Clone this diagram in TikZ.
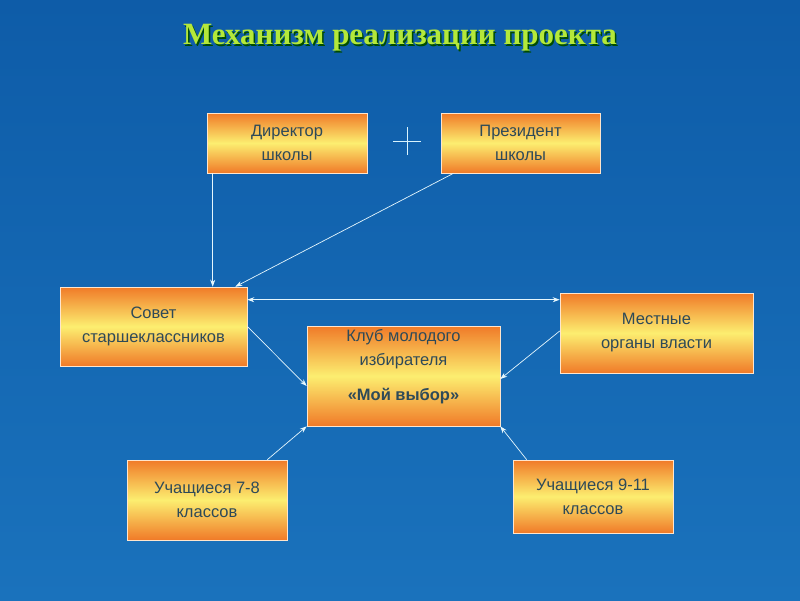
\documentclass[tikz,border=0pt]{standalone}
\usepackage{fontspec}
\setmainfont{Liberation Sans}
\newfontfamily\titlefont{Liberation Serif}
\usetikzlibrary{arrows.meta}
\definecolor{bgtop}{HTML}{0E5CA8}
\definecolor{bgbot}{HTML}{1A72BC}
\definecolor{boxor}{HTML}{F07A28}
\definecolor{boxye}{HTML}{FCEE70}
\definecolor{txt}{HTML}{2E4A58}
\definecolor{ttl}{HTML}{B4E83A}
\tikzset{
  box/.style={draw=white!80!orange, line width=0.6pt, top color=boxor, bottom color=boxor, middle color=boxye, font=\fontsize{16.5}{24}\selectfont, text=txt, align=center},
  conn/.style={draw=white!90!cyan, line width=0.7pt, -{Stealth[length=7pt,width=5pt]}}
}
\begin{document}
\begin{tikzpicture}[x=1pt,y=-1pt]
\useasboundingbox (0,0) rectangle (800,600);
\shade[top color=bgtop, bottom color=bgbot] (0,0) rectangle (800,600);
\node[font=\titlefont\bfseries\fontsize{31}{34}\selectfont, text=black!70!green] (tsh) at (401.5,39.5) {Механизм реализации проекта};
\node[font=\titlefont\bfseries\fontsize{31}{34}\selectfont, text=ttl] (title) at (400,38) {Механизм реализации проекта};
\node[box, minimum width=160, minimum height=60] (dir) at (287,143) {Директор\\школы};
\node[box, minimum width=159, minimum height=60] (pres) at (520.5,143) {Президент\\школы};
\node[box, minimum width=187, minimum height=79] (sov) at (153.5,326.5) {Совет\\старшеклассников};
\node[box, minimum width=193, minimum height=80] (mest) at (656.5,333) {Местные\\органы власти};
\node[box, minimum width=193, minimum height=100] (klub) at (403.5,376) {};
\node[font=\fontsize{16.5}{24}\selectfont, text=txt, align=center] (klubt) at (403.5,349) {Клуб молодого\\избирателя};
\node[font=\bfseries\fontsize{16.5}{20}\selectfont, text=txt] (klubb) at (403.5,396) {«Мой выбор»};
\node[box, minimum width=160, minimum height=80] (u78) at (207,500) {Учащиеся 7-8\\классов};
\node[box, minimum width=160, minimum height=73] (u911) at (593,496.5) {Учащиеся 9-11\\классов};
\coordinate (p1) at (393,141); \coordinate (p2) at (421,141);
\coordinate (p3) at (407,127); \coordinate (p4) at (407,155);
\draw[white!85!cyan, line width=0.7pt] (p1) -- (p2) (p3) -- (p4);
\draw[conn] (dir.south west) ++(6,0) coordinate (a1) -- (a1 |- sov.north);
\draw[conn] ([xshift=-67]pres.south) -- ([xshift=-12]sov.north east);
\draw[conn, {Stealth[length=7pt,width=5pt]}-{Stealth[length=7pt,width=5pt]}] ([yshift=-13]sov.north east) -- ([yshift=-13]sov.north east -| mest.west);
\draw[conn] (sov.east) -- ([yshift=-10]klub.west);
\draw[conn] ([yshift=2]mest.west) -- ([yshift=-3]klub.east);
\draw[conn] ([xshift=-20]u78.north east) -- (klub.south west);
\draw[conn] ([xshift=14]u911.north west) -- (klub.south east);
\end{tikzpicture}
\end{document}
